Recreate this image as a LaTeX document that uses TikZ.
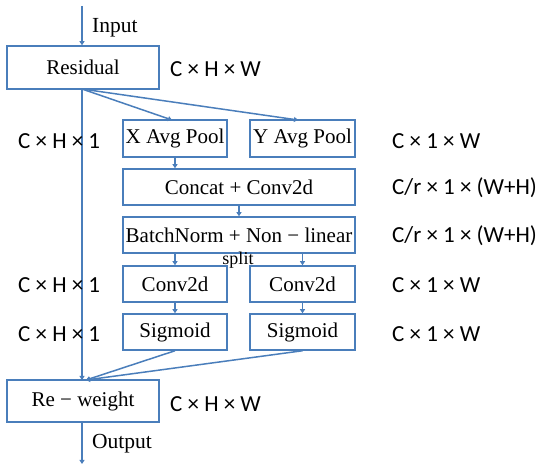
\documentclass[tikz,border=0pt]{standalone}
\usepackage{fontspec}
\setmainfont{Liberation Serif}
\newfontfamily\dimfont{Carlito}
\usetikzlibrary{arrows.meta}
\definecolor{lineblue}{RGB}{74,126,187}
\tikzset{
  blk/.style={draw=lineblue, line width=1.5pt, minimum height=36pt, inner sep=0pt, font=\fontsize{21}{24}\selectfont},
  dimlbl/.style={anchor=west, inner sep=0pt, font=\dimfont\fontsize{23}{26}\selectfont},
  txt/.style={inner sep=0pt, font=\fontsize{21.5}{24}\selectfont},
  conn/.style={draw=lineblue, line width=1.5pt, -{Triangle[width=5pt,length=4pt]}},
}
\begin{document}
\begin{tikzpicture}[x=1pt,y=-1pt]
\useasboundingbox (0,0) rectangle (550,468);
% boxes
\node[blk, minimum width=152pt, minimum height=43pt] (res) at (83,67.5) {Residual};
\node[blk, minimum width=104pt, minimum height=37pt] (xp) at (175,138.5) {X Avg Pool};
\node[blk, minimum width=105pt, minimum height=37pt] (yp) at (302.5,138.5) {Y Avg Pool};
\node[blk, minimum width=232pt] (cat) at (239,187) {Concat + Conv2d};
\node[blk, minimum width=232pt] (bn) at (239,235) {BatchNorm + Non \textminus{} linear};
\node[blk, minimum width=104pt] (c1) at (175,284) {Conv2d};
\node[blk, minimum width=105pt] (c2) at (302.5,284) {Conv2d};
\node[blk, minimum width=104pt] (s1) at (175,332) {Sigmoid};
\node[blk, minimum width=105pt] (s2) at (302.5,332) {Sigmoid};
\node[blk, minimum width=152pt, minimum height=42pt] (rw) at (83,401) {Re \textminus{} weight};
% coordinates
\coordinate (top) at (82,6);
\coordinate (bot) at (82,464);
\coordinate (rs) at (82,89);
\coordinate (rwt) at (82,380);
\coordinate (rwj) at (86,380);
% connectors
\draw[conn] (top) -- (res.north -| top);
\draw[conn] (rs) -- (rwt);
\draw[conn] (rs) -- (172,120);
\draw[conn] (rs) -- (298,120);
\draw[conn] (xp.south) -- (cat.north -| xp.south);
\draw[conn] (cat.south) -- (bn.north);
\draw[conn] (bn.south -| c1.north) -- (c1.north);
\draw[conn] (bn.south -| c2.north) -- (c2.north);
\draw[conn] (c1.south) -- (s1.north);
\draw[conn] (c2.south) -- (s2.north);
\draw[conn] (s1.south) -- (rwj);
\draw[conn] (s2.south) -- (rwj);
\draw[conn] (rw.south -| bot) -- (bot);
% texts
\node[txt, anchor=west] (inp) at (92,28) {Input};
\node[txt, anchor=west] (outp) at (92,444) {Output};
\node[inner sep=0pt, font=\fontsize{18}{20}\selectfont] (spl) at (238,260) {split};
\node[dimlbl] (d1) at (170,69) {C × H × W};
\node[dimlbl] (d2) at (18,141) {C × H × 1};
\node[dimlbl] (d3) at (392,141) {C × 1 × W};
\node[dimlbl] (d4) at (392,188) {C/r × 1 × (W+H)};
\node[dimlbl] (d5) at (392,236) {C/r × 1 × (W+H)};
\node[dimlbl] (d6) at (18,285) {C × H × 1};
\node[dimlbl] (d7) at (392,285) {C × 1 × W};
\node[dimlbl] (d8) at (18,334) {C × H × 1};
\node[dimlbl] (d9) at (392,334) {C × 1 × W};
\node[dimlbl] (d10) at (170,404) {C × H × W};
\end{tikzpicture}
\end{document}
